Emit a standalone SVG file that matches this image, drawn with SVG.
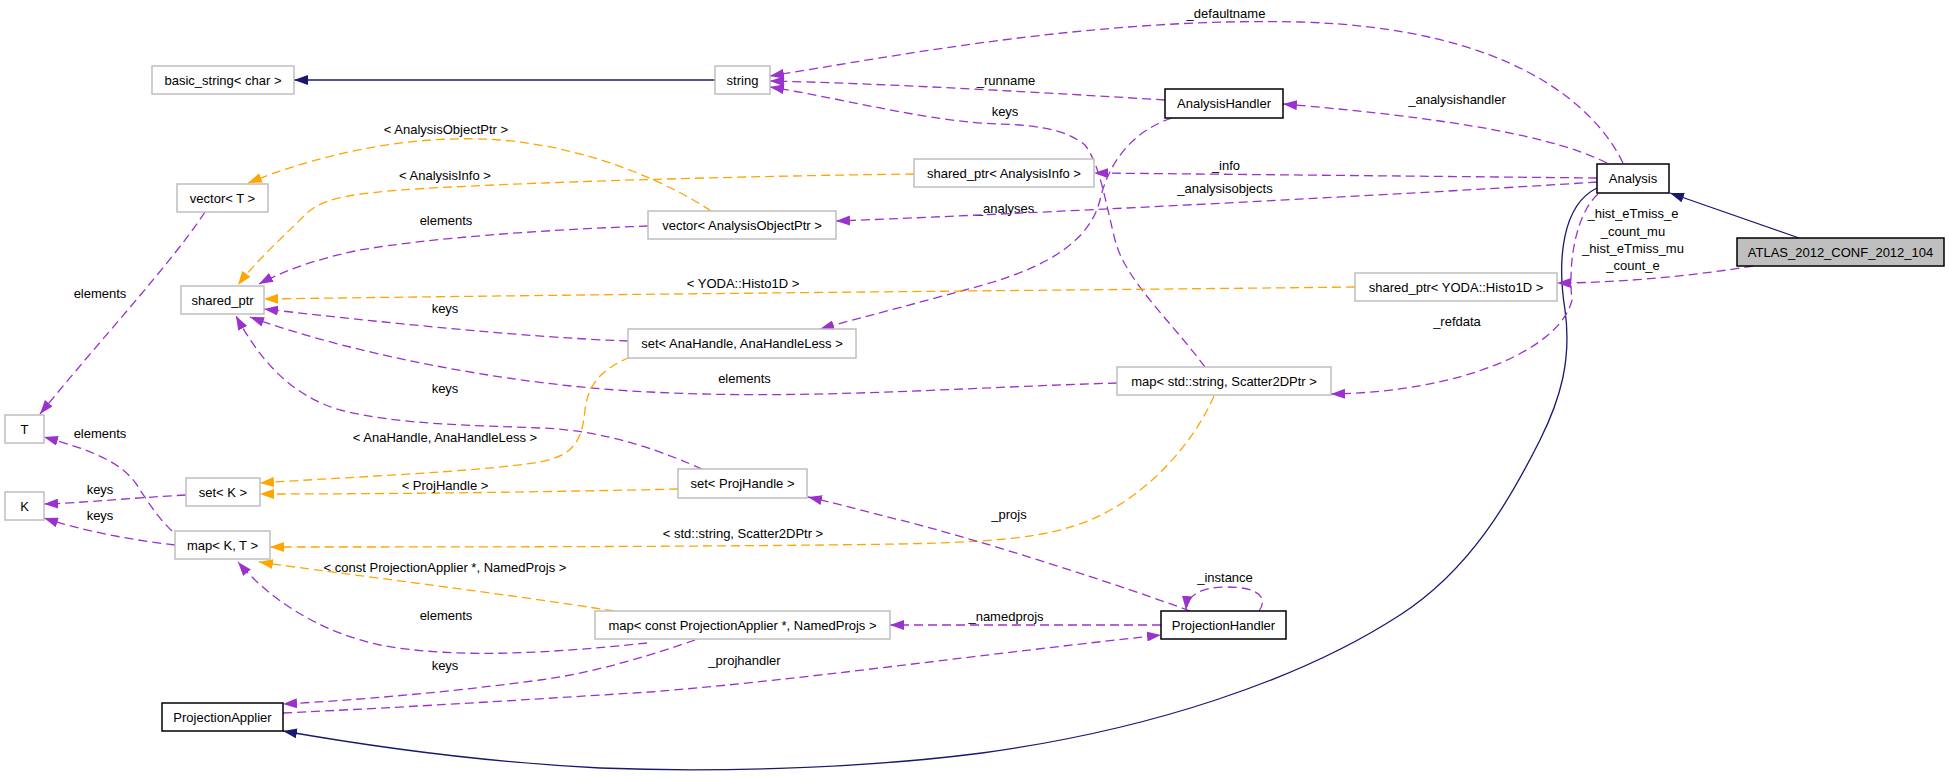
<svg xmlns="http://www.w3.org/2000/svg" width="1949" height="778" viewBox="0 0 1949 778">
<style>
text{font-family:"Liberation Sans",Arial,sans-serif;font-size:13px;fill:#000;text-anchor:middle}
.n{fill:#fff;stroke:#bfbfbf;stroke-width:1.5}
.b{fill:#fff;stroke:#000;stroke-width:1.5}
.g{fill:#bfbfbf;stroke:#000;stroke-width:1.5}
.p{fill:none;stroke:#9a32cd;stroke-width:1.3;stroke-dasharray:9,5;marker-end:url(#mp)}
.o{fill:none;stroke:#ffa500;stroke-width:1.3;stroke-dasharray:9,5;marker-end:url(#mo)}
.v{fill:none;stroke:#191970;stroke-width:1.3;marker-end:url(#mv)}
</style>
<defs>
<marker id="mp" markerUnits="userSpaceOnUse" markerWidth="14" markerHeight="10" viewBox="0 0 14 10" refX="14" refY="5" orient="auto"><path d="M0,0L14,5L0,10z" fill="#9a32cd"/></marker>
<marker id="mo" markerUnits="userSpaceOnUse" markerWidth="14" markerHeight="10" viewBox="0 0 14 10" refX="14" refY="5" orient="auto"><path d="M0,0L14,5L0,10z" fill="#ffa500"/></marker>
<marker id="mv" markerUnits="userSpaceOnUse" markerWidth="14" markerHeight="10" viewBox="0 0 14 10" refX="14" refY="5" orient="auto"><path d="M0,0L14,5L0,10z" fill="#191970"/></marker>
</defs>
<rect width="1949" height="778" fill="#fff"/>
<g id="edges">
<path class="v" d="M715,80L294,80"/>
<path class="p" d="M1623,163C1595,105 1510,28 1300,22C1100,17 900,55 770,76"/>
<text x="1226" y="17.5">_defaultname</text>
<path class="p" d="M1165,100C1050,93 900,84 770,81"/>
<text x="1006" y="84.5">_runname</text>
<path class="p" d="M1205,367C1170,320 1125,280 1115,240C1105,200 1100,165 1085,145C1065,128 1030,125 1000,124C930,122 850,100 770,87"/>
<text x="1005" y="115.5">keys</text>
<path class="p" d="M1607,163C1570,145 1500,122 1283,104"/>
<text x="1457" y="103.5">_analysishandler</text>
<path class="p" d="M1172,118C1130,132 1108,165 1100,200C1090,240 1050,265 990,283C930,300 870,315 820,329"/>
<text x="1005" y="212.5">_analyses</text>
<path class="p" d="M1597,178C1400,176 1200,174 1094,173"/>
<text x="1226" y="169.5">_info</text>
<path class="p" d="M1597,182C1400,195 1000,215 836,221"/>
<text x="1225" y="192.5">_analysisobjects</text>
<path class="o" d="M914,174C750,176 520,182 400,190C340,195 320,200 305,215C285,235 255,262 238,285"/>
<text x="445" y="179.5">&lt; AnalysisInfo &gt;</text>
<path class="o" d="M711,211C680,190 600,148 500,140C420,134 330,150 248,183"/>
<text x="446" y="133.5">&lt; AnalysisObjectPtr &gt;</text>
<path class="p" d="M648,226C540,230 430,238 360,250C320,258 285,270 259,284"/>
<text x="446" y="224.5">elements</text>
<path class="p" d="M205,212C170,265 100,340 40,414"/>
<text x="100" y="297.5">elements</text>
<path class="o" d="M1355,287C1100,290 700,293 264,299"/>
<text x="743" y="287.5">&lt; YODA::Histo1D &gt;</text>
<path class="p" d="M628,341C520,337 380,322 264,309"/>
<text x="445" y="312.5">keys</text>
<path class="p" d="M1117,383C950,388 800,400 650,392C500,385 340,350 250,317"/>
<text x="744.5" y="382.5">elements</text>
<path class="p" d="M702,469C670,455 610,430 540,428C470,425 400,425 340,410C290,395 260,360 236,316"/>
<text x="445" y="392.5">keys</text>
<path class="o" d="M630,357C600,370 588,385 585,410C582,440 575,455 540,462C480,472 330,478 260,483"/>
<text x="445" y="441.5">&lt; AnaHandle, AnaHandleLess &gt;</text>
<path class="o" d="M678,489C550,492 400,494 260,494"/>
<text x="445" y="489.5">&lt; ProjHandle &gt;</text>
<path class="p" d="M186,495C130,498 80,503 44,504"/>
<text x="100" y="493.5">keys</text>
<path class="p" d="M175,545C130,540 80,530 44,518"/>
<text x="100" y="519.5">keys</text>
<path class="p" d="M172,531C160,520 150,505 140,490C125,462 90,450 44,437"/>
<text x="100" y="437.5">elements</text>
<path class="o" d="M1214,396C1195,440 1150,495 1090,520C1050,537 1000,542 900,544C700,547 450,547 270,547"/>
<text x="743" y="537.5">&lt; std::string, Scatter2DPtr &gt;</text>
<path class="o" d="M614,611C500,593 350,575 259,562"/>
<text x="445" y="571.5">&lt; const ProjectionApplier *, NamedProjs &gt;</text>
<path class="p" d="M647,643C560,652 460,660 380,645C320,632 270,600 238,562"/>
<text x="446" y="619.5">elements</text>
<path class="p" d="M695,640C660,652 600,672 540,680C450,692 360,700 283,704"/>
<text x="445" y="669.5">keys</text>
<path class="p" d="M283,713C450,705 550,698 650,692C800,680 950,658 1161,635"/>
<text x="744.5" y="664.5">_projhandler</text>
<path class="p" d="M1161,625L890,625"/>
<text x="1006" y="620.5">_namedprojs</text>
<path class="p" d="M1190,611C1120,585 980,540 900,520C860,510 835,503 808,497"/>
<text x="1009" y="518.5">_projs</text>
<path class="p" d="M1259,611C1268,598 1260,587 1226,587C1200,587 1187,596 1186,610"/>
<text x="1225" y="581.5">_instance</text>
<path class="v" d="M1597,188C1562,205 1557,260 1565,310C1572,360 1560,400 1540,440C1510,500 1470,570 1400,615C1300,680 1150,730 982,753C850,770 700,772 600,768C480,762 380,748 283,731"/>
<path class="p" d="M1598,194C1575,215 1568,265 1572,300C1560,350 1460,392 1331,394"/>
<text x="1457" y="325.5">_refdata</text>
<path class="v" d="M1799,238L1670,193"/>
<path class="p" d="M1753,266C1700,275 1620,283 1557,283"/>
<text x="1633" y="217.5">_hist_eTmiss_e</text>
<text x="1633" y="235.5">_count_mu</text>
<text x="1633" y="252.5">_hist_eTmiss_mu</text>
<text x="1633" y="269.5">_count_e</text>
</g>
<g id="n_basic_string"><rect class="n" x="152" y="66" width="142" height="28"/><text x="223" y="84.5">basic_string&lt; char &gt;</text></g>
<g id="n_string"><rect class="n" x="715" y="66" width="55" height="28"/><text x="742.5" y="84.5">string</text></g>
<g id="n_analysishandler"><rect class="b" x="1165" y="89" width="118" height="29"/><text x="1224" y="108">AnalysisHandler</text></g>
<g id="n_analysis"><rect class="b" x="1597" y="164" width="72" height="29"/><text x="1633" y="183">Analysis</text></g>
<g id="n_atlas"><rect class="g" x="1737" y="238" width="207" height="28"/><text x="1840.5" y="256.5">ATLAS_2012_CONF_2012_104</text></g>
<g id="n_vector_t"><rect class="n" x="177" y="184" width="91" height="28"/><text x="222.5" y="202.5">vector&lt; T &gt;</text></g>
<g id="n_sp_info"><rect class="n" x="914" y="159" width="180" height="28"/><text x="1004" y="177.5">shared_ptr&lt; AnalysisInfo &gt;</text></g>
<g id="n_vec_aop"><rect class="n" x="648" y="211" width="188" height="28"/><text x="742" y="229.5">vector&lt; AnalysisObjectPtr &gt;</text></g>
<g id="n_shared_ptr"><rect class="n" x="181" y="286" width="83" height="28"/><text x="222.5" y="304.5">shared_ptr</text></g>
<g id="n_sp_histo"><rect class="n" x="1355" y="273" width="202" height="28"/><text x="1456" y="291.5">shared_ptr&lt; YODA::Histo1D &gt;</text></g>
<g id="n_set_ana"><rect class="n" x="628" y="329" width="228" height="29"/><text x="742" y="348">set&lt; AnaHandle, AnaHandleLess &gt;</text></g>
<g id="n_map_scatter"><rect class="n" x="1117" y="367" width="214" height="28"/><text x="1224" y="385.5">map&lt; std::string, Scatter2DPtr &gt;</text></g>
<g id="n_T"><rect class="n" x="5" y="415" width="39" height="28"/><text x="24.5" y="433.5">T</text></g>
<g id="n_set_k"><rect class="n" x="186" y="478" width="74" height="28"/><text x="223" y="496.5">set&lt; K &gt;</text></g>
<g id="n_K"><rect class="n" x="5" y="492" width="39" height="28"/><text x="24.5" y="510.5">K</text></g>
<g id="n_set_proj"><rect class="n" x="678" y="469" width="129" height="29"/><text x="742.5" y="488">set&lt; ProjHandle &gt;</text></g>
<g id="n_map_kt"><rect class="n" x="175" y="531" width="95" height="28"/><text x="222.5" y="549.5">map&lt; K, T &gt;</text></g>
<g id="n_map_named"><rect class="n" x="595" y="611" width="295" height="28"/><text x="742.5" y="629.5">map&lt; const ProjectionApplier *, NamedProjs &gt;</text></g>
<g id="n_projhandler"><rect class="b" x="1161" y="611" width="125" height="28"/><text x="1223.5" y="629.5">ProjectionHandler</text></g>
<g id="n_projapplier"><rect class="b" x="162" y="703" width="121" height="28"/><text x="222.5" y="721.5">ProjectionApplier</text></g>
</svg>
